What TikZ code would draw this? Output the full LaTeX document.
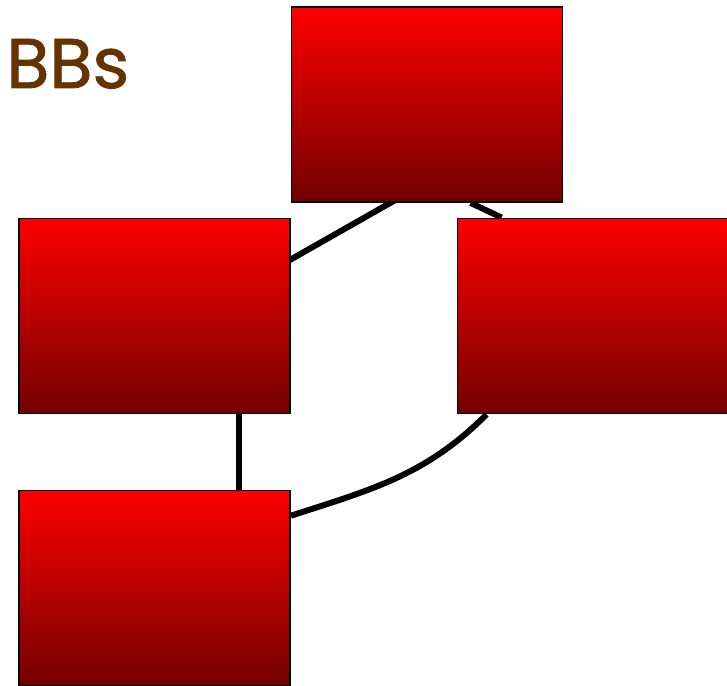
\documentclass[tikz,border=0pt]{standalone}
\usepackage{fontspec}
\newfontfamily\titlefont[FakeBold=1.2]{Poppins}
\usetikzlibrary{backgrounds,calc}

\definecolor{bbbrown}{RGB}{102,51,0}

\begin{document}
\begin{tikzpicture}[
    block/.style={draw=black, line width=1.1pt, rectangle,
      minimum width=5.42cm, minimum height=3.9cm, inner sep=0pt,
      top color=red, bottom color=red!45!black},
    link/.style={line width=3.4pt}]
  \clip (0,0) rectangle (14.54,-13.72);

  \node[anchor=base west, inner sep=0pt, text=bbbrown, font=\titlefont\fontsize{40}{40}\selectfont]
    at (0.12,-1.76) (title) {BBs};

  \node[block] at (8.54,-2.09) (top) {};
  \node[block] at (3.09,-6.32) (left) {};
  \node[block] at (11.86,-6.32) (right) {};
  \node[block] at (3.09,-11.76) (bottom) {};

  \coordinate (leftfoot) at ($(left.south west)!0.81!(left.south east)$);

  \begin{scope}[on background layer]
    \draw[link, shorten <=8pt, shorten >=8pt] (top.east) -- (left.south west);
    \draw[link] ($(top.south west)!0.66!(top.south east)$) -- ($(right.north west)!0.165!(right.north east)$);
    \draw[link] (leftfoot) -- (leftfoot |- bottom.north);
    \draw[link] ($(right.south west)!0.11!(right.south east)$) to[out=-135, in=18]
      ($(bottom.north east)!0.133!(bottom.south east)$);
  \end{scope}
\end{tikzpicture}
\end{document}
